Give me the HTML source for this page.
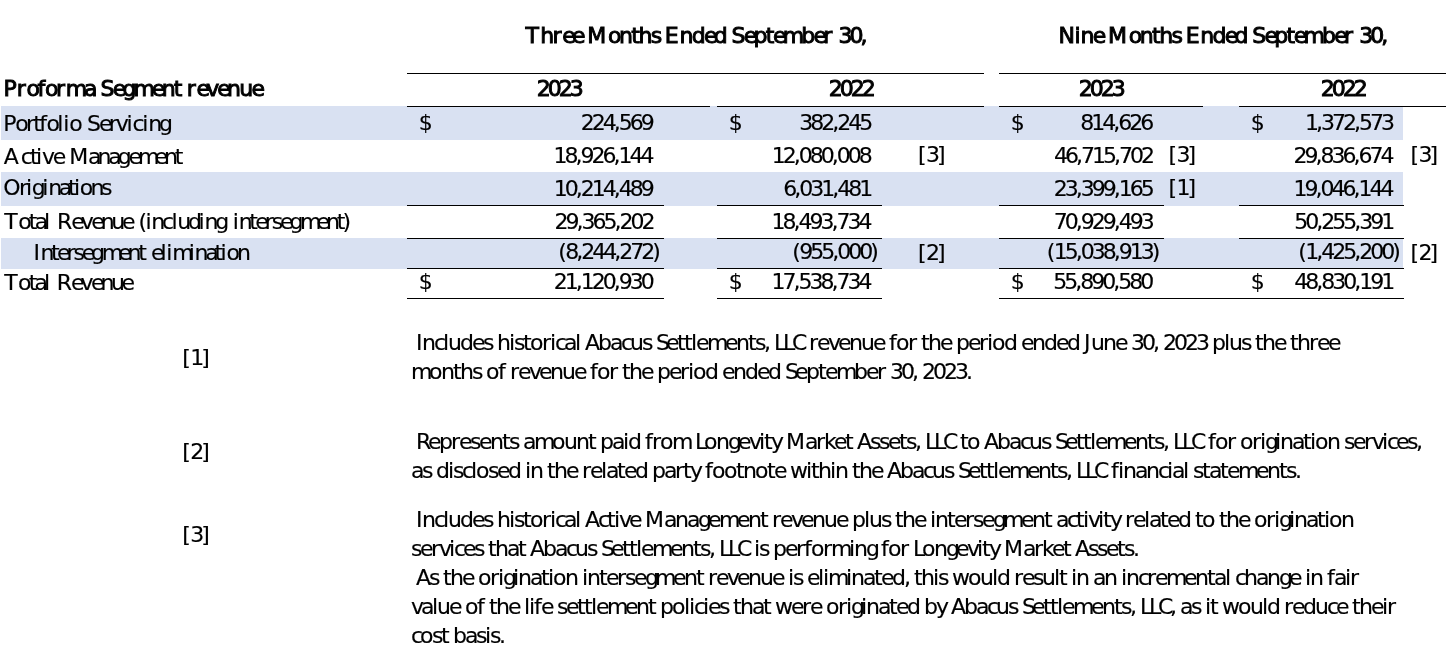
<!DOCTYPE html>
<html><head><meta charset="utf-8"><title>Proforma Segment revenue</title>
<style>
html,body{margin:0;padding:0;background:#fff}
body{width:1447px;height:669px;overflow:hidden}
svg{display:block}
text{font-family:"DejaVu Sans","Liberation Sans",sans-serif;font-size:22px;fill:#000;white-space:pre;font-kerning:none;stroke:#000;stroke-width:0.15px}
text.b{stroke:#000;stroke-width:0.95px;stroke-linejoin:miter}
</style></head><body>
<svg width="1447" height="669" viewBox="0 0 1447 669">
<rect width="1447" height="669" fill="#fff"/>
<rect x="1" y="106" width="1402" height="34" fill="#D9E1F2"/>
<rect x="1" y="172" width="1402" height="34" fill="#D9E1F2"/>
<rect x="1" y="238" width="1402" height="31" fill="#D9E1F2"/>
<rect x="407" y="73" width="577" height="1" fill="#000"/>
<rect x="999" y="73" width="447" height="1" fill="#000"/>
<rect x="407" y="106" width="303" height="1" fill="#000"/>
<rect x="717" y="106" width="267" height="1" fill="#000"/>
<rect x="999" y="106" width="204" height="1" fill="#000"/>
<rect x="1239" y="106" width="207" height="1" fill="#000"/>
<rect x="407" y="205" width="257" height="1" fill="#000"/>
<rect x="717" y="205" width="165" height="1" fill="#000"/>
<rect x="999" y="205" width="165" height="1" fill="#000"/>
<rect x="1239" y="205" width="165" height="1" fill="#000"/>
<rect x="407" y="238" width="257" height="1" fill="#000"/>
<rect x="717" y="238" width="165" height="1" fill="#000"/>
<rect x="999" y="238" width="165" height="1" fill="#000"/>
<rect x="1239" y="238" width="165" height="1" fill="#000"/>
<rect x="407" y="268" width="257" height="1" fill="#000"/>
<rect x="717" y="268" width="165" height="1" fill="#000"/>
<rect x="999" y="268" width="405" height="1" fill="#000"/>
<rect x="407" y="298" width="257" height="1" fill="#000"/>
<rect x="717" y="298" width="165" height="1" fill="#000"/>
<rect x="999" y="298" width="405" height="1" fill="#000"/>
<text class="b" x="525.54 540.22 552.45 562.22 571.98 581.75 587.25 608.01 619.01 631.25 638.57 650.81 659.37 664.87 679.54 691.78 704.02 713.78 726.02 731.52 743.75 753.52 765.75 773.08 782.84 801.17 813.4 823.17 832.93 838.43 849.43 860.43" y="43">Three Months Ended September 30,</text>
<text class="b" x="1058.52 1074.41 1080.52 1092.76 1102.52 1108.02 1128.79 1139.79 1152.02 1159.35 1171.58 1180.14 1185.64 1200.32 1212.55 1224.79 1234.55 1246.79 1252.29 1264.52 1274.29 1286.52 1293.85 1303.61 1321.94 1334.18 1343.94 1353.71 1359.21 1370.21 1381.21" y="43">Nine Months Ended September 30,</text>
<text class="b" x="3.42 16.86 26.62 37.62 44.95 55.95 65.71 84.04 95.04 100.54 112.78 122.54 133.54 151.87 161.63 173.87 181.19 186.69 196.46 206.22 217.22 226.99 239.22 251.46" y="95.5">Proforma Segment revenue</text>
<text class="b" x="536.77 547.77 558.77 569.77" y="95.5">2023</text>
<text class="b" x="828.87 839.87 850.87 861.87" y="95.5">2022</text>
<text class="b" x="1078.87 1089.87 1100.87 1111.87" y="95.5">2023</text>
<text class="b" x="1320.87 1331.87 1342.87 1353.87" y="95.5">2022</text>
<text x="3.34 15.34 26.12 33.3 39.29 46.48 57.26 63.25 69.24 80.03 87.08 99.07 108.65 115.83 126.61 132.6 142.18 148.17 158.95" y="131">Portfolio Servicing</text>
<text x="580.75 591.75 602.75 613.75 618.75 629.75 640.75" y="130.2">224,569</text>
<text x="418.67" y="130.2">$</text>
<text x="799.13 810.13 821.13 832.13 837.13 848.13 859.13" y="130.2">382,245</text>
<text x="728.67" y="130.2">$</text>
<text x="1080.29 1091.29 1102.29 1113.29 1118.29 1129.29 1140.29" y="130.2">814,626</text>
<text x="1010.67" y="130.2">$</text>
<text x="1304.96 1315.96 1320.96 1331.96 1342.96 1353.96 1358.96 1369.96 1380.96" y="130.2">1,372,573</text>
<text x="1250.67" y="130.2">$</text>
<text x="3.83 20.65 30.12 36.05 41.99 52.66 62.14 69.13 88.11 97.59 108.26 117.74 128.41 137.89 154.49 163.97 174.64" y="164">Active Management</text>
<text x="553.44 564.44 575.44 580.44 591.44 602.44 613.44 618.44 629.44 640.44" y="163">18,926,144</text>
<text x="771.71 782.71 793.71 798.71 809.71 820.71 831.71 836.71 847.71 858.71" y="163">12,080,008</text>
<text x="1054.11 1065.11 1076.11 1081.11 1092.11 1103.11 1114.11 1119.11 1130.11 1141.11" y="163">46,715,702</text>
<text x="1293.44 1304.44 1315.44 1320.44 1331.44 1342.44 1353.44 1358.44 1369.44 1380.44" y="163">29,836,674</text>
<text x="918.01 926.01 937.01" y="162.3">[3]</text>
<text x="1168.51 1176.51 1187.51" y="162.3">[3]</text>
<text x="1410.51 1418.51 1429.51" y="162.3">[3]</text>
<text x="3.26 18.9 25.93 31.79 42.34 48.2 58.75 68.12 73.98 79.84 90.39 100.94" y="194.7">Originations</text>
<text x="553.75 564.75 575.75 580.75 591.75 602.75 613.75 618.75 629.75 640.75" y="196">10,214,489</text>
<text x="783.23 794.23 799.23 810.23 821.23 832.23 837.23 848.23 859.23" y="196">6,031,481</text>
<text x="1053.83 1064.83 1075.83 1080.83 1091.83 1102.83 1113.83 1118.83 1129.83 1140.83" y="196">23,399,165</text>
<text x="1293.44 1304.44 1315.44 1320.44 1331.44 1342.44 1353.44 1358.44 1369.44 1380.44" y="196">19,046,144</text>
<text x="1168.51 1176.51 1187.51" y="195.3">[1]</text>
<text x="4.26 18.15 28.78 34.68 44.12 50.03 57.02 71.2 80.63 91.26 100.7 111.33 121.96 131.39 138.39 145.46 151.37 162 171.43 177.34 187.97 198.6 204.5 215.13 225.76 232.76 238.66 249.29 255.2 264.63 271.71 279.98 289.42 300.05 316.58 326.02 336.65 342.55" y="229">Total Revenue (including intersegment)</text>
<text x="554.41 565.41 576.41 581.41 592.41 603.41 614.41 619.41 630.41 641.41" y="229">29,365,202</text>
<text x="771.44 782.44 793.44 798.44 809.44 820.44 831.44 836.44 847.44 858.44" y="229">18,493,734</text>
<text x="1053.66 1064.66 1075.66 1080.66 1091.66 1102.66 1113.66 1118.66 1129.66 1140.66" y="229">70,929,493</text>
<text x="1294.23 1305.23 1316.23 1321.23 1332.23 1343.23 1354.23 1359.23 1370.23 1381.23" y="229">50,255,391</text>
<text x="33.44 40.5 51.1 56.99 66.4 73.46 81.7 91.11 101.71 118.2 127.61 138.21 144.1 151.04 160.45 166.34 172.23 188.71 194.6 205.2 214.61 220.5 226.39 236.99" y="259.5">Intersegment elimination</text>
<text x="558.16 565.16 576.16 581.16 592.16 603.16 614.16 619.16 630.16 641.16 652.16" y="259.2">(8,244,272)</text>
<text x="792.16 799.16 810.16 821.16 832.16 837.16 848.16 859.16 870.16" y="259.2">(955,000)</text>
<text x="1046.86 1053.86 1064.86 1075.86 1080.86 1091.86 1102.86 1113.86 1118.86 1129.86 1140.86 1151.86" y="259.2">(15,038,913)</text>
<text x="1298.16 1305.16 1316.16 1321.16 1332.16 1343.16 1354.16 1359.16 1370.16 1381.16 1392.16" y="259.2">(1,425,200)</text>
<text x="918.01 926.01 937.01" y="259.7">[2]</text>
<text x="1410.51 1418.51 1429.51" y="259.7">[2]</text>
<text x="4.26 18.11 28.7 34.59 44 49.88 56.86 70.99 80.4 90.99 100.4 110.99 121.59" y="290">Total Revenue</text>
<text x="553.66 564.66 575.66 580.66 591.66 602.66 613.66 618.66 629.66 640.66" y="289.3">21,120,930</text>
<text x="418.67" y="289.3">$</text>
<text x="771.44 782.44 793.44 798.44 809.44 820.44 831.44 836.44 847.44 858.44" y="289.3">17,538,734</text>
<text x="728.67" y="289.3">$</text>
<text x="1053.36 1064.36 1075.36 1080.36 1091.36 1102.36 1113.36 1118.36 1129.36 1140.36" y="289.3">55,890,580</text>
<text x="1010.67" y="289.3">$</text>
<text x="1294.23 1305.23 1316.23 1321.23 1332.23 1343.23 1354.23 1359.23 1370.23 1381.23" y="289.3">48,830,191</text>
<text x="1250.67" y="289.3">$</text>
<text x="182.31 190.31 201.31" y="365">[1]</text>
<text x="182.31 190.31 201.31" y="459">[2]</text>
<text x="182.31 190.31 201.31" y="542">[3]</text>
<text x="416.1 422.1 434.1 443.1 448.1 460.1 472.1 483.1 492.1 497.1 509.1 514.1 523.1 530.1 542.1 550.1 555.1 564.1 575.1 580.1 585.1 598.1 610.1 621.1 630.1 642.1 651.1 656.1 666.1 677.1 684.1 691.1 696.1 707.1 725.1 736.1 748.1 755.1 764.1 769.1 774.1 783.1 792.1 804.1 809.1 817.1 828.1 838.1 849.1 861.1 873.1 884.1 889.1 896.1 908.1 916.1 921.1 928.1 940.1 951.1 956.1 968.1 979.1 987.1 992.1 1004.1 1016.1 1021.1 1032.1 1044.1 1056.1 1067.1 1079.1 1084.1 1091.1 1103.1 1115.1 1126.1 1131.1 1142.1 1153.1 1158.1 1163.1 1174.1 1185.1 1196.1 1207.1 1212.1 1224.1 1229.1 1241.1 1250.1 1255.1 1262.1 1274.1 1285.1 1290.1 1297.1 1309.1 1317.1 1328.1" y="350">Includes historical Abacus Settlements, LLC revenue for the period ended June 30, 2023 plus the three</text>
<text x="411.1 429.1 441.1 453.1 460.1 472.1 481.1 486.1 498.1 505.1 510.1 518.1 529.1 539.1 550.1 562.1 574.1 585.1 590.1 597.1 609.1 617.1 622.1 629.1 641.1 652.1 657.1 669.1 680.1 688.1 693.1 705.1 717.1 722.1 733.1 745.1 757.1 768.1 780.1 785.1 795.1 806.1 818.1 825.1 836.1 854.1 866.1 877.1 885.1 890.1 901.1 912.1 917.1 922.1 933.1 944.1 955.1 966.1" y="379">months of revenue for the period ended September 30, 2023.</text>
<text x="416.1 428.1 439.1 451.1 459.1 470.1 479.1 490.1 502.1 509.1 518.1 523.1 534.1 552.1 564.1 576.1 588.1 595.1 600.1 612.1 623.1 628.1 640.1 645.1 652.1 660.1 672.1 690.1 695.1 704.1 716.1 728.1 738.1 749.1 759.1 764.1 771.1 781.1 786.1 805.1 816.1 824.1 834.1 845.1 852.1 857.1 870.1 879.1 888.1 899.1 906.1 915.1 920.1 925.1 934.1 943.1 955.1 960.1 967.1 979.1 984.1 997.1 1009.1 1020.1 1029.1 1041.1 1050.1 1055.1 1065.1 1076.1 1083.1 1090.1 1095.1 1106.1 1124.1 1135.1 1147.1 1154.1 1163.1 1168.1 1173.1 1182.1 1191.1 1203.1 1208.1 1215.1 1227.1 1235.1 1240.1 1252.1 1260.1 1265.1 1275.1 1280.1 1292.1 1303.1 1310.1 1315.1 1327.1 1339.1 1344.1 1353.1 1364.1 1372.1 1382.1 1387.1 1396.1 1407.1 1416.1" y="449">Represents amount paid from Longevity Market Assets, LLC to Abacus Settlements, LLC for origination services,</text>
<text x="411.1 422.1 431.1 436.1 448.1 453.1 462.1 471.1 476.1 488.1 497.1 508.1 520.1 525.1 530.1 542.1 547.1 554.1 566.1 577.1 582.1 590.1 601.1 606.1 617.1 624.1 635.1 647.1 652.1 664.1 675.1 683.1 690.1 700.1 705.1 712.1 724.1 736.1 743.1 755.1 767.1 774.1 785.1 790.1 806.1 811.1 818.1 830.1 835.1 847.1 852.1 859.1 871.1 882.1 887.1 900.1 912.1 923.1 932.1 944.1 953.1 958.1 968.1 979.1 986.1 993.1 998.1 1009.1 1027.1 1038.1 1050.1 1057.1 1066.1 1071.1 1076.1 1085.1 1094.1 1106.1 1111.1 1118.1 1123.1 1135.1 1146.1 1158.1 1167.1 1172.1 1183.1 1188.1 1193.1 1202.1 1209.1 1220.1 1227.1 1238.1 1256.1 1267.1 1279.1 1286.1 1295.1" y="478">as disclosed in the related party footnote within the Abacus Settlements, LLC financial statements.</text>
<text x="416.1 422.1 434.1 443.1 448.1 460.1 472.1 483.1 492.1 497.1 509.1 514.1 523.1 530.1 542.1 550.1 555.1 564.1 575.1 580.1 585.1 598.1 607.1 614.1 619.1 629.1 640.1 645.1 664.1 675.1 687.1 698.1 708.1 719.1 737.1 748.1 760.1 767.1 772.1 780.1 791.1 801.1 812.1 824.1 836.1 847.1 852.1 864.1 869.1 881.1 890.1 895.1 902.1 914.1 925.1 930.1 935.1 947.1 954.1 965.1 973.1 982.1 993.1 1003.1 1021.1 1032.1 1044.1 1051.1 1056.1 1067.1 1076.1 1083.1 1088.1 1098.1 1103.1 1110.1 1120.1 1125.1 1133.1 1144.1 1149.1 1160.1 1167.1 1178.1 1190.1 1195.1 1202.1 1214.1 1219.1 1226.1 1238.1 1249.1 1254.1 1266.1 1274.1 1279.1 1289.1 1294.1 1306.1 1317.1 1324.1 1329.1 1341.1" y="527">Includes historical Active Management revenue plus the intersegment activity related to the origination</text>
<text x="411.1 420.1 431.1 439.1 449.1 454.1 463.1 474.1 483.1 488.1 495.1 507.1 518.1 525.1 530.1 543.1 555.1 566.1 575.1 587.1 596.1 601.1 611.1 622.1 629.1 636.1 641.1 652.1 670.1 681.1 693.1 700.1 709.1 714.1 719.1 728.1 737.1 749.1 754.1 759.1 768.1 773.1 785.1 796.1 804.1 811.1 823.1 831.1 849.1 854.1 866.1 876.1 881.1 888.1 900.1 908.1 913.1 922.1 934.1 946.1 956.1 967.1 977.1 982.1 989.1 999.1 1004.1 1023.1 1034.1 1042.1 1052.1 1063.1 1070.1 1075.1 1088.1 1097.1 1106.1 1117.1 1124.1 1133.1" y="556">services that Abacus Settlements, LLC is performing for Longevity Market Assets.</text>
<text x="416.1 429.1 438.1 443.1 450.1 462.1 473.1 478.1 490.1 498.1 503.1 513.1 518.1 530.1 541.1 548.1 553.1 565.1 577.1 582.1 587.1 599.1 606.1 617.1 625.1 634.1 645.1 655.1 673.1 684.1 696.1 703.1 708.1 716.1 727.1 737.1 748.1 760.1 772.1 783.1 788.1 793.1 802.1 807.1 818.1 823.1 828.1 846.1 851.1 863.1 874.1 881.1 892.1 904.1 909.1 914.1 921.1 933.1 938.1 947.1 952.1 968.1 980.1 992.1 997.1 1009.1 1014.1 1022.1 1033.1 1042.1 1054.1 1059.1 1066.1 1071.1 1076.1 1088.1 1093.1 1104.1 1116.1 1121.1 1126.1 1138.1 1147.1 1155.1 1166.1 1184.1 1195.1 1207.1 1214.1 1225.1 1230.1 1235.1 1244.1 1256.1 1267.1 1279.1 1289.1 1300.1 1305.1 1310.1 1322.1 1327.1 1334.1 1345.1 1350.1" y="585">As the origination intersegment revenue is eliminated, this would result in an incremental change in fair</text>
<text x="411.1 421.1 432.1 437.1 449.1 460.1 465.1 477.1 484.1 489.1 496.1 508.1 519.1 524.1 529.1 534.1 541.1 552.1 557.1 566.1 577.1 584.1 591.1 596.1 607.1 625.1 636.1 648.1 655.1 660.1 672.1 684.1 689.1 694.1 703.1 708.1 719.1 728.1 733.1 740.1 752.1 763.1 770.1 775.1 791.1 802.1 810.1 821.1 826.1 838.1 846.1 851.1 861.1 866.1 878.1 889.1 896.1 907.1 919.1 924.1 936.1 946.1 951.1 964.1 976.1 987.1 996.1 1008.1 1017.1 1022.1 1032.1 1043.1 1050.1 1057.1 1062.1 1073.1 1091.1 1102.1 1114.1 1121.1 1130.1 1135.1 1140.1 1149.1 1158.1 1170.1 1175.1 1180.1 1191.1 1200.1 1205.1 1210.1 1217.1 1222.1 1238.1 1250.1 1262.1 1267.1 1279.1 1284.1 1292.1 1303.1 1315.1 1327.1 1336.1 1347.1 1352.1 1359.1 1371.1 1382.1 1387.1" y="614">value of the life settlement policies that were originated by Abacus Settlements, LLC, as it would reduce their</text>
<text x="411.1 420.1 432.1 441.1 448.1 453.1 465.1 476.1 485.1 490.1 499.1" y="643">cost basis.</text>
</svg>
</body></html>
